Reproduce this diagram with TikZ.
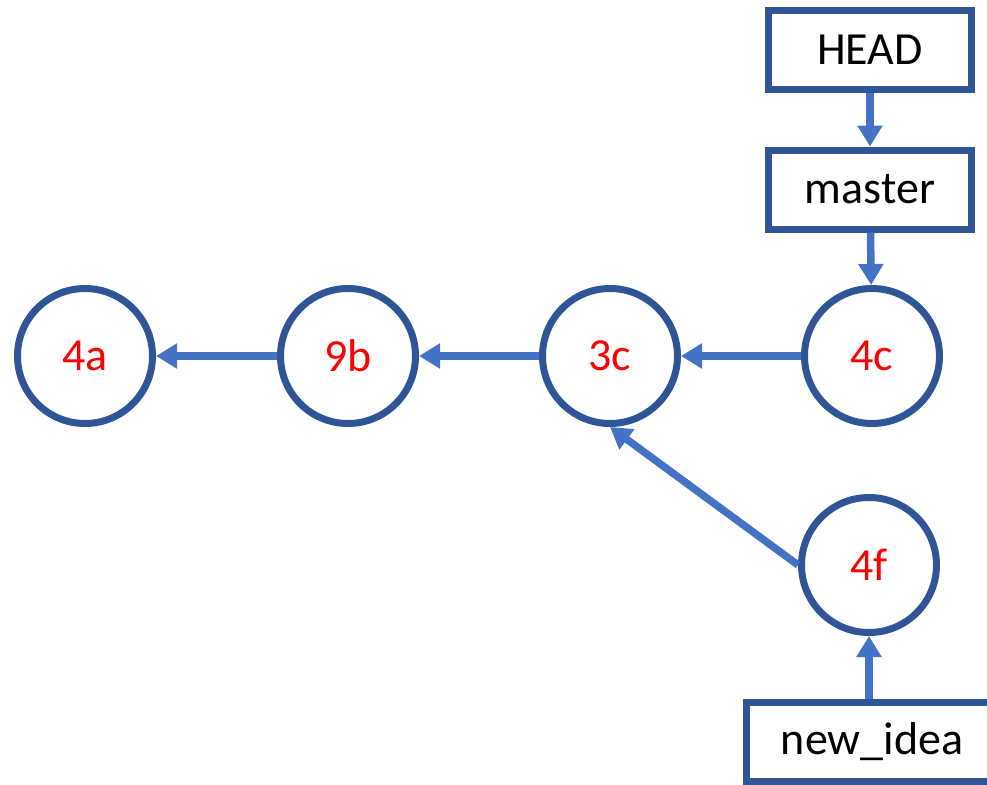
\documentclass[tikz,border=0pt]{standalone}
\usepackage{fontspec}
\setmainfont{Carlito}
\usetikzlibrary{arrows.meta}
\definecolor{rimblue}{HTML}{2F5597}
\definecolor{linkblue}{HTML}{4472C4}
\begin{document}
\begin{tikzpicture}[x=1pt,y=-1pt,
    commit/.style={circle, draw=rimblue, line width=7pt, minimum size=135pt,
      inner sep=0pt, text=red, font=\fontsize{46}{50}\selectfont},
    refbox/.style={rectangle, draw=rimblue, line width=7pt, minimum height=79pt,
      inner sep=0pt, font=\fontsize{46}{50}\selectfont},
    link/.style={draw=linkblue, line width=7.5pt,
      -{Triangle[width=24pt,length=21pt]}}]
  \useasboundingbox (0,0) rectangle (987,784);
  % commits
  \node[commit] (c4a) at (85,356) {4a};
  \node[commit] (c9b) at (348,356) {9b};
  \node[commit] (c3c) at (610,356) {3c};
  \node[commit] (c4c) at (872,356) {4c};
  \node[commit] (c4f) at (869,565) {4f};
  % refs
  \node[refbox, minimum width=203pt] (head) at (870,50) {HEAD};
  \node[refbox, minimum width=203pt] (master) at (870,189.5) {master};
  \node[refbox, minimum width=252pt] (idea) at (872,742) {new\_idea};
  \draw[link] (head) -- (master);
  \draw[link] (master) -- (c4c);
  \draw[link] (c4c) -- (c3c);
  \draw[link] (c3c) -- (c9b);
  \draw[link] (c9b) -- (c4a);
  \draw[link] (c4f.west) -- (c3c.south);
  \draw[link] (idea.north -| c4f) -- (c4f);
\end{tikzpicture}
\end{document}
